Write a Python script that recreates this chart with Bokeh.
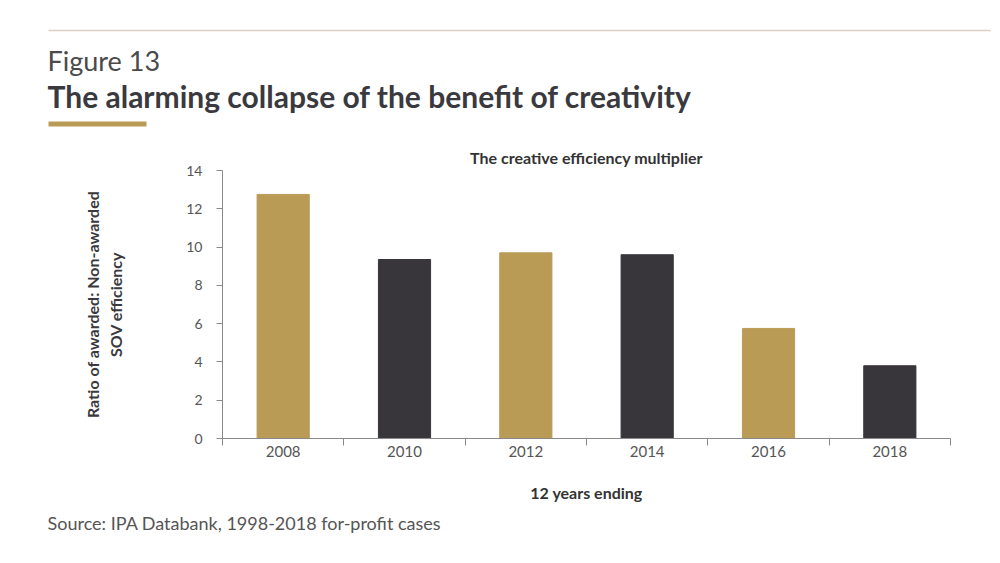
from bokeh.plotting import figure
from bokeh.layouts import column
from bokeh.models import FixedTicker, Range1d, ColumnDataSource
from bokeh.embed import file_html
from bokeh.resources import INLINE
from bokeh.core.properties import value

# ---- data ----
years = ["2008", "2010", "2012", "2014", "2016", "2018"]
ratios = [12.75, 9.35, 9.7, 9.6, 5.75, 3.8]
bar_colors = ["#b99b55", "#38363b", "#b99b55", "#38363b", "#b99b55", "#38363b"]
y_ticks = [0, 2, 4, 6, 8, 10, 12, 14]

fig_label = "Figure 13"
headline = "The alarming collapse of the benefit of creativity"
chart_title = "The creative efficiency multiplier"
y_label = "Ratio of awarded: Non-awarded\nSOV efficiency"
x_label = "12 years ending"
source_note = "Source: IPA Databank, 1998-2018 for-profit cases"

FONT = "Lato"
W = 995
HEAD_H = 140
MAIN_H = 365
FOOT_H = 48


def blank(h):
    f = figure(width=W, height=h, output_backend="svg", toolbar_location=None,
               x_range=Range1d(0, W), y_range=Range1d(h, 0),
               x_axis_location=None, y_axis_location=None,
               min_border=0, min_border_left=0, min_border_right=0,
               min_border_top=0, min_border_bottom=0, frame_align=False)
    f.outline_line_color = None
    f.xgrid.visible = False
    f.ygrid.visible = False
    f.background_fill_color = "white"
    f.border_fill_color = "white"
    return f


# ---- header ----
head = blank(HEAD_H)
head.line([48, 990], [30, 30], line_color="#d9d0c1", line_width=1.5)
head.line([48, 146], [123.5, 123.5], line_color="#b99b58", line_width=5)
head.text([47], [60], text=[fig_label], text_font=value(FONT), text_font_size="27px",
          text_color="#4a4a4a", text_baseline="middle", text_align="left")
head.text([47], [95], text=[headline], text_font=value(FONT), text_font_size="30px",
          text_font_style="bold", text_color="#3a393d", text_baseline="middle",
          text_align="left")

# ---- main chart ----
FL, FR, FT, FB = 222, 950, 30, 298  # frame edges inside the main figure
src = ColumnDataSource(dict(x=list(range(len(years))), top=ratios, color=bar_colors))

p = figure(width=W, height=MAIN_H, output_backend="svg", toolbar_location=None,
           x_range=Range1d(-0.5, len(years) - 0.5), y_range=Range1d(0, 14),
           min_border_left=FL, min_border_right=W - FR,
           min_border_top=FT, min_border_bottom=MAIN_H - FB, frame_align=False)
p.outline_line_color = None
p.xgrid.visible = False
p.ygrid.visible = False
p.background_fill_color = "white"
p.border_fill_color = "white"

p.title.text = chart_title
p.title.align = "center"
p.title.text_font = FONT
p.title.text_font_size = "16px"
p.title.text_font_style = "bold"
p.title.text_color = "#333333"
p.title.standoff = 7

p.vbar(x="x", top="top", width=0.43, color="color", source=src)

ya = p.yaxis[0]
ya.ticker = FixedTicker(ticks=y_ticks, minor_ticks=[])
ya.axis_line_color = "#8a8a8a"
ya.major_tick_line_color = "#8a8a8a"
ya.major_tick_out = 6
ya.major_tick_in = 0
ya.minor_tick_line_color = None
ya.major_label_text_font = FONT
ya.major_label_text_font_size = "14px"
ya.major_label_text_color = "#555555"
ya.major_label_standoff = 14
ya.axis_label = y_label
ya.axis_label_text_font = FONT
ya.axis_label_text_font_style = "bold"
ya.axis_label_text_font_size = "16px"
ya.axis_label_text_color = "#3a393d"
ya.axis_label_standoff = 58

xa = p.xaxis[0]
xa.ticker = FixedTicker(ticks=list(range(len(years))),
                        minor_ticks=[i - 0.5 for i in range(len(years) + 1)])
xa.major_label_overrides = {i: y for i, y in enumerate(years)}
xa.axis_line_color = "#8a8a8a"
xa.major_tick_line_color = None
xa.major_tick_out = 0
xa.major_tick_in = 0
xa.minor_tick_line_color = "#8a8a8a"
xa.minor_tick_out = 7
xa.minor_tick_in = 0
xa.major_label_text_font = FONT
xa.major_label_text_font_size = "15px"
xa.major_label_text_color = "#555555"
xa.major_label_standoff = 0
xa.axis_label = x_label
xa.axis_label_text_font = FONT
xa.axis_label_text_font_style = "bold"
xa.axis_label_text_font_size = "16px"
xa.axis_label_text_color = "#333333"
xa.axis_label_standoff = 23

# ---- footer ----
foot = blank(FOOT_H)
foot.text([47], [17], text=[source_note], text_font=value(FONT), text_font_size="18px",
          text_color="#555555", text_baseline="middle", text_align="left")

layout = column(head, p, foot, spacing=0)
open("out.html", "w").write(file_html(layout, INLINE))
